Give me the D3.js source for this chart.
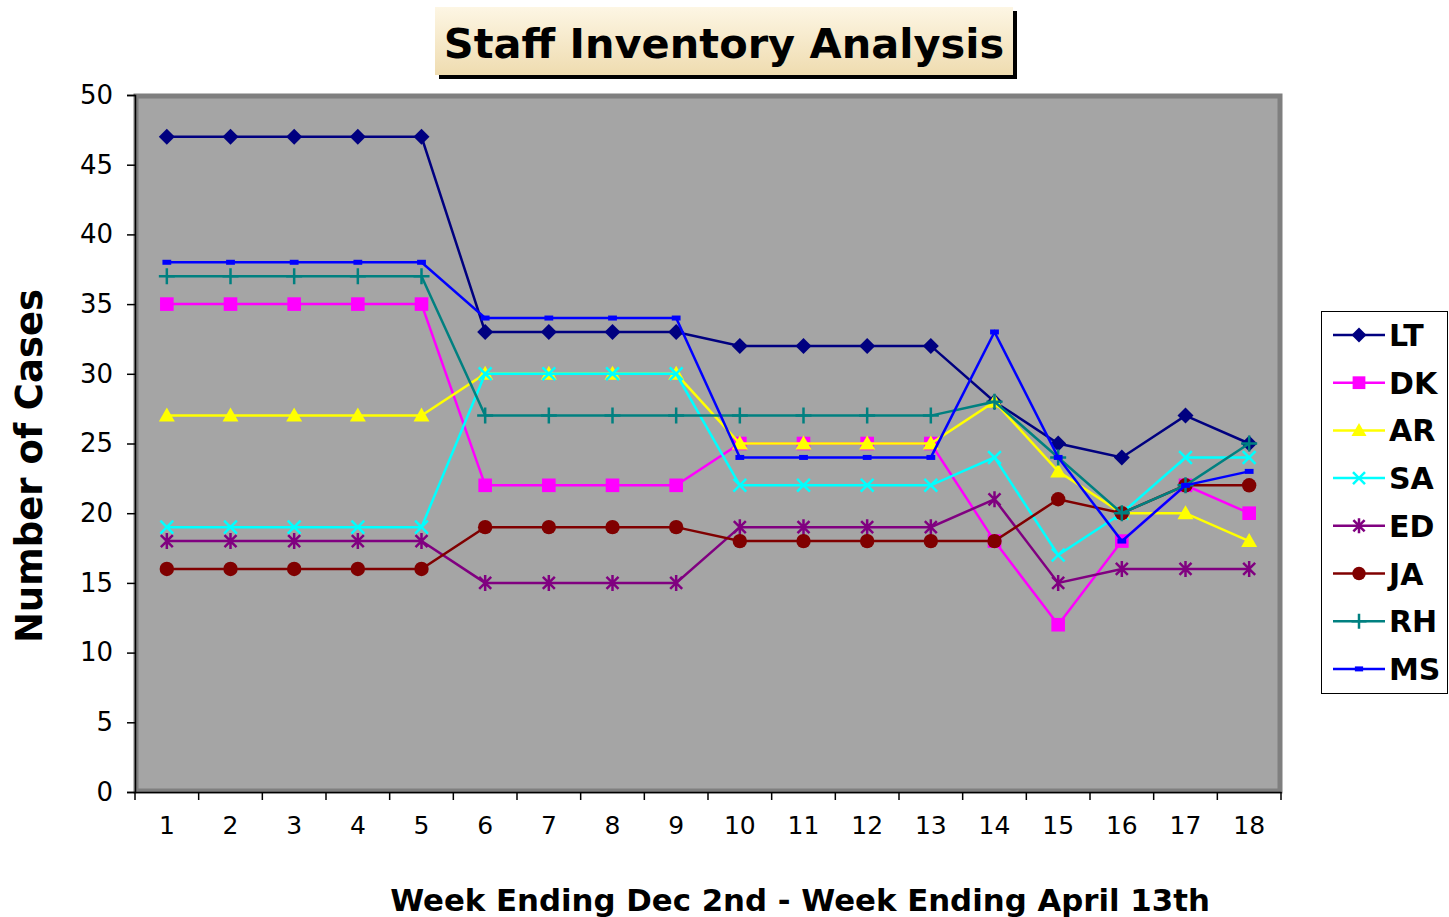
<!DOCTYPE html>
<html>
<head>
<meta charset="utf-8">
<script src="https://cdn.jsdelivr.net/npm/d3@7"></script>
<style>
  body { margin: 0; background: #fff; }
  text { font-family: "DejaVu Sans", Verdana, sans-serif; }
</style>
</head>
<body>
<svg width="1449" height="917"></svg>
<script>
// weeks and series
let weeks = d3.range(1, 19);
let LT = [47,47,47,47,47,33,33,33,33,32,32,32,32,28,25,24,27,25];
let DK = [35,35,35,35,35,22,22,22,22,25,25,25,25,18,12,18,22,20];
let AR = [27,27,27,27,27,30,30,30,30,25,25,25,25,28,23,20,20,18];
let SA = [19,19,19,19,19,30,30,30,30,22,22,22,22,24,17,20,24,24];
let ED = [18,18,18,18,18,15,15,15,15,19,19,19,19,21,15,16,16,16];
let JA = [16,16,16,16,16,19,19,19,19,18,18,18,18,18,21,20,22,22];
let RH = [37,37,37,37,37,27,27,27,27,27,27,27,27,28,24,20,22,25];
let MS = [38,38,38,38,38,34,34,34,34,24,24,24,24,33,24,18,22,23];
let yTicks = d3.range(0, 51, 5);

let series = [
  {name: 'LT', values: LT, color: '#000080', marker: 'diamond'},
  {name: 'DK', values: DK, color: '#ff00ff', marker: 'square'},
  {name: 'AR', values: AR, color: '#ffff00', marker: 'triangle'},
  {name: 'SA', values: SA, color: '#00ffff', marker: 'x'},
  {name: 'ED', values: ED, color: '#800080', marker: 'star'},
  {name: 'JA', values: JA, color: '#800000', marker: 'circle'},
  {name: 'RH', values: RH, color: '#008080', marker: 'plus'},
  {name: 'MS', values: MS, color: '#0000ff', marker: 'dash'}
];

let svg = d3.select('svg');
let pLeft = 135, pRight = 1281, pTop = 95, pBottom = 792;

let x = d3.scaleBand().domain(weeks).range([pLeft, pRight]);
let y = d3.scaleLinear().domain([0, 50]).range([pBottom, pTop]);

// plot area
svg.append('rect')
  .attr('x', pLeft + 1).attr('y', pTop + 1)
  .attr('width', pRight - pLeft - 2).attr('height', pBottom - pTop - 2)
  .attr('fill', '#a5a5a5')
  .attr('stroke', '#7f7f7f')
  .attr('stroke-width', 5);

// axes
let yAxis = d3.axisLeft(y).tickValues(yTicks).tickSize(8).tickPadding(14);
svg.append('g')
  .attr('transform', `translate(${pLeft},0)`)
  .call(yAxis)
  .call(g => g.selectAll('text').attr('font-size', 26).attr('fill', '#000').style('font-family', '"DejaVu Sans", Verdana, sans-serif'))
  .call(g => g.selectAll('line, path').attr('stroke', '#000').attr('stroke-width', 1.5));

let xAxis = d3.axisBottom(x).tickSize(0).tickPadding(24);
let gx = svg.append('g')
  .attr('transform', `translate(0,${pBottom})`)
  .call(xAxis)
  .call(g => g.selectAll('text').attr('font-size', 25).attr('fill', '#000').style('font-family', '"DejaVu Sans", Verdana, sans-serif'))
  .call(g => g.select('path').attr('stroke', '#000').attr('stroke-width', 1.5));

// ticks between categories
gx.selectAll('.sep')
  .data(d3.range(0, weeks.length + 1))
  .join('line')
  .attr('x1', i => pLeft + i * x.step())
  .attr('x2', i => pLeft + i * x.step())
  .attr('y1', 0).attr('y2', 8)
  .attr('stroke', '#000').attr('stroke-width', 1.5);

// markers
function drawMarker(g, type, color, s) {
  if (type === 'diamond') {
    g.append('path').attr('d', `M0,${-s}L${s},0L0,${s}L${-s},0Z`).attr('fill', color);
  } else if (type === 'square') {
    g.append('rect').attr('x', -s * 0.85).attr('y', -s * 0.85).attr('width', s * 1.7).attr('height', s * 1.7).attr('fill', color);
  } else if (type === 'triangle') {
    g.append('path').attr('d', `M0,${-s}L${s},${s * 0.75}L${-s},${s * 0.75}Z`).attr('fill', color);
  } else if (type === 'x') {
    g.append('path').attr('d', `M${-s * 0.8},${-s * 0.8}L${s * 0.8},${s * 0.8}M${-s * 0.8},${s * 0.8}L${s * 0.8},${-s * 0.8}`)
      .attr('stroke', color).attr('stroke-width', 2.5);
  } else if (type === 'star') {
    g.append('path').attr('d', `M${-s * 0.75},${-s * 0.75}L${s * 0.75},${s * 0.75}M${-s * 0.75},${s * 0.75}L${s * 0.75},${-s * 0.75}M0,${-s}L0,${s}`)
      .attr('stroke', color).attr('stroke-width', 2.5);
  } else if (type === 'circle') {
    g.append('circle').attr('r', s * 0.9).attr('fill', color);
  } else if (type === 'plus') {
    g.append('path').attr('d', `M0,${-s}L0,${s}M${-s},0L${s},0`).attr('stroke', color).attr('stroke-width', 2.5);
  } else if (type === 'dash') {
    g.append('rect').attr('x', -s * 0.55).attr('y', -2.5).attr('width', s * 1.1).attr('height', 5).attr('fill', color);
  }
}

let line = d3.line()
  .x((d, i) => x(weeks[i]) + x.bandwidth() / 2)
  .y(d => y(d));

series.forEach(s => {
  let g = svg.append('g');
  g.append('path')
    .attr('d', line(s.values))
    .attr('fill', 'none')
    .attr('stroke', s.color)
    .attr('stroke-width', 2.5);
  g.selectAll('.m')
    .data(s.values)
    .join('g')
    .attr('transform', (d, i) => `translate(${x(weeks[i]) + x.bandwidth() / 2},${y(d)})`)
    .each(function() { drawMarker(d3.select(this), s.marker, s.color, 8); });
});

// title box
svg.append('rect').attr('x', 439).attr('y', 11).attr('width', 578).attr('height', 68).attr('fill', '#000');
let grad = svg.append('defs').append('linearGradient').attr('id', 'tg').attr('x1', 0).attr('y1', 0).attr('x2', 0).attr('y2', 1);
grad.append('stop').attr('offset', '0%').attr('stop-color', '#fdf6e4');
grad.append('stop').attr('offset', '100%').attr('stop-color', '#efdcb0');
svg.append('rect').attr('x', 435).attr('y', 7).attr('width', 578).attr('height', 68).attr('fill', 'url(#tg)');
svg.append('text')
  .attr('x', 724).attr('y', 58)
  .attr('text-anchor', 'middle')
  .attr('font-size', 41.5).attr('font-weight', 'bold')
  .text('Staff Inventory Analysis');

// axis titles
svg.append('text')
  .attr('transform', 'translate(42,466) rotate(-90)')
  .attr('text-anchor', 'middle')
  .attr('font-size', 37).attr('font-weight', 'bold')
  .text('Number of Cases');

svg.append('text')
  .attr('x', 800).attr('y', 911)
  .attr('text-anchor', 'middle')
  .attr('font-size', 30.8).attr('font-weight', 'bold')
  .text('Week Ending Dec 2nd - Week Ending April 13th');

// legend
let lg = svg.append('g');
lg.append('rect').attr('x', 1321.5).attr('y', 311.5).attr('width', 126).attr('height', 382)
  .attr('fill', '#fff').attr('stroke', '#000').attr('stroke-width', 1);
series.forEach((s, i) => {
  let ly = 335 + i * 47.7;
  lg.append('line').attr('x1', 1333).attr('x2', 1385).attr('y1', ly).attr('y2', ly)
    .attr('stroke', s.color).attr('stroke-width', 2.5);
  let mg = lg.append('g').attr('transform', `translate(1359,${ly})`);
  drawMarker(mg, s.marker, s.color, 7.5);
  lg.append('text').attr('x', 1389).attr('y', ly + 11)
    .attr('font-size', 30).attr('font-weight', 'bold')
    .text(s.name);
});
</script>
</body>
</html>
